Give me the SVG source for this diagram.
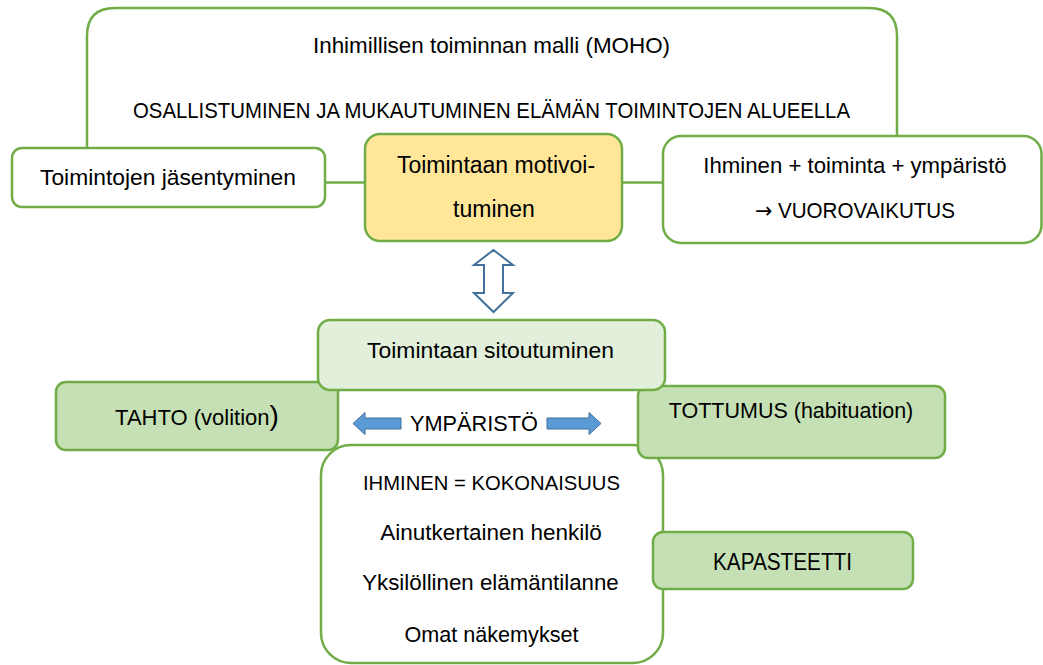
<svg xmlns="http://www.w3.org/2000/svg" width="1043" height="665" viewBox="0 0 1043 665">
<defs>
<style>
text{font-family:"Liberation Sans",Arial,sans-serif;fill:#000;text-anchor:middle}
.box{stroke:#70AD47;stroke-width:2.5}
.w{fill:#fff}
.y{fill:#FFE699}
.lg{fill:#E2EFDA}
.g{fill:#C5E0B4}
.ln{fill:none;stroke:#70AD47;stroke-width:2.5}
.ba{fill:#5B9BD5;stroke:#41719C;stroke-width:1}
.da{fill:#fff;stroke:#41719C;stroke-width:2}
</style>
</defs>
<rect width="1043" height="665" fill="#fff"/>
<g id="moho">
<path class="ln" d="M87,148 V36 Q87,8 115,8 H869 Q897,8 897,36 V136"/>
<text x="491.5" y="53" style="font-size:22.4px">Inhimillisen toiminnan malli (MOHO)</text>
<text x="491.5" y="118" style="font-size:21.5px" textLength="717" lengthAdjust="spacingAndGlyphs">OSALLISTUMINEN JA MUKAUTUMINEN ELÄMÄN TOIMINTOJEN ALUEELLA</text>
</g>
<g id="connectors">
<line class="ln" x1="325" y1="182.5" x2="365" y2="182.5"/>
<line class="ln" x1="622" y1="182.5" x2="663" y2="182.5"/>
<path class="da" d="M493.5,250 L513,265 L503,265 L503,293 L513,293 L493.5,312 L474,293 L484,293 L484,265 L474,265 Z"/>
<path class="ba" d="M353,423.5 L365,412.5 L365,418 L401,418 L401,429 L365,429 L365,434.5 Z"/>
<path class="ba" d="M601,423.5 L589,412.5 L589,418 L547,418 L547,429 L589,429 L589,434.5 Z"/>
</g>
<g id="jasentyminen">
<rect class="box w" x="12" y="148" width="313" height="59" rx="10"/>
<text x="168" y="185" style="font-size:22.8px">Toimintojen jäsentyminen</text>
</g>
<g id="motivoituminen">
<rect class="box y" x="365" y="134" width="257" height="107" rx="15"/>
<text x="496" y="173" style="font-size:23px">Toimintaan motivoi-</text>
<text x="494" y="217" style="font-size:23px">tuminen</text>
</g>
<g id="vuorovaikutus">
<rect class="box w" x="663" y="136" width="378.5" height="107" rx="18"/>
<text x="855" y="173" style="font-size:22.2px">Ihminen + toiminta + ympäristö</text>
<text x="855" y="218" style="font-size:21.5px" textLength="200" lengthAdjust="spacingAndGlyphs"><tspan font-family="'DejaVu Sans',sans-serif">→</tspan> VUOROVAIKUTUS</text>
</g>
<g id="ihminen">
<rect class="box w" x="321" y="445" width="342" height="218" rx="30"/>
<text x="491.5" y="490" style="font-size:21px" textLength="257" lengthAdjust="spacingAndGlyphs">IHMINEN = KOKONAISUUS</text>
<text x="491" y="540" style="font-size:22.5px">Ainutkertainen henkilö</text>
<text x="490.5" y="590" style="font-size:22.3px">Yksilöllinen elämäntilanne</text>
<text x="491.5" y="642" style="font-size:21.6px">Omat näkemykset</text>
</g>
<g id="tahto">
<rect class="box g" x="56" y="382" width="282" height="68" rx="10"/>
<text x="197" y="425" style="font-size:22px">TAHTO (volition<tspan font-size="28">)</tspan></text>
</g>
<g id="tottumus">
<rect class="box g" x="638" y="386" width="307" height="72" rx="10"/>
<text x="791" y="418" style="font-size:21.5px">TOTTUMUS (habituation)</text>
</g>
<g id="sitoutuminen">
<rect class="box lg" x="318" y="320" width="347" height="70" rx="12"/>
<text x="490.5" y="358" style="font-size:22.9px">Toimintaan sitoutuminen</text>
</g>
<g id="ymparisto">
<text x="474" y="431" style="font-size:22.5px" textLength="128" lengthAdjust="spacingAndGlyphs">YMPÄRISTÖ</text>
</g>
<g id="kapasteetti">
<rect class="box g" x="653" y="532" width="260" height="57" rx="10"/>
<text x="782.5" y="570" style="font-size:24px" textLength="139" lengthAdjust="spacingAndGlyphs">KAPASTEETTI</text>
</g>
</svg>
